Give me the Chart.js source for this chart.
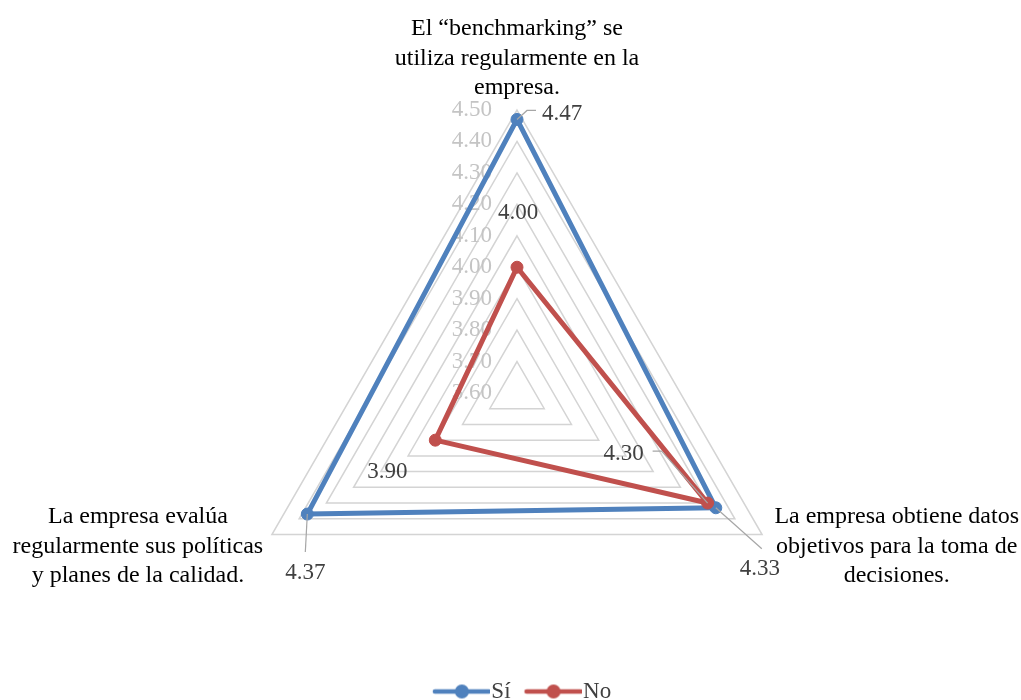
<!DOCTYPE html>
<html lang="es">
<head>
<meta charset="utf-8">
<title>Benchmarking y evaluación de la calidad</title>
<script src="https://cdn.jsdelivr.net/npm/chart.js@4.4.1/dist/chart.umd.min.js"></script>
<style>
  html, body { margin: 0; padding: 0; background: #ffffff; }
  #wrap { width: 1021px; height: 700px; }
</style>
</head>
<body>
<div id="wrap"><canvas id="c" width="1021" height="700"></canvas></div>
<script>
// Categories (one entry per axis, broken into display lines)
const categories = [
  ['El \u201cbenchmarking\u201d se', 'utiliza regularmente en la', 'empresa.'],
  ['La empresa obtiene datos', 'objetivos para la toma de', 'decisiones.'],
  ['La empresa evalúa', 'regularmente sus políticas', 'y planes de la calidad.']
];

// Series values
const seriesNames = ['Sí', 'No'];
const valuesSi = [4.47, 4.33, 4.37];
const valuesNo = [4.00, 4.30, 3.90];

// Radial axis range
const axisMin = 3.6;
const axisMax = 4.5;
const axisStep = 0.1;

// Styling
const seriesColors = ['#4f81bd', '#c0504d'];
const serif = "'Liberation Serif', 'Times New Roman', serif";

// Value label placement (offset of label centre from its point) and leader lines
const labelPlacement = [
  [ { dx: 45, dy: -5, leader: [[0, 0], [10, -9], [19, -9]] },
    { dx: 44, dy: 61, leader: [[0, 0], [46, 41]] },
    { dx: -2, dy: 59, leader: [[0, 0], [-2, 38]] } ],
  [ { dx: 1, dy: -54, leader: null },
    { dx: -84, dy: -49, leader: [[0, 0], [-46, -52], [-55, -52]] },
    { dx: -48, dy: 32, leader: null } ]
];

// Category label block centre, relative to the outer vertex of each axis
const categoryPlacement = [
  { dx: 0, dy: -51.5 },
  { dx: 134.6, dy: 12 },
  { dx: -134, dy: 12 }
];

// Legend marker: short line with a dot in the middle
function legendMarker(color) {
  const cv = document.createElement('canvas');
  cv.width = 77; cv.height = 16;
  const g = cv.getContext('2d');
  g.strokeStyle = color;
  g.lineWidth = 4.5;
  g.lineCap = 'round';
  g.beginPath();
  g.moveTo(22, 8); g.lineTo(76, 8);
  g.stroke();
  g.fillStyle = color;
  g.beginPath();
  g.arc(49, 8, 7, 0, Math.PI * 2);
  g.fill();
  return cv;
}

// Tick labels, drawn to the left of the vertical axis
const tickLabelPlugin = {
  id: 'tickLabels',
  beforeDatasetsDraw(chart) {
    const s = chart.scales.r;
    const ctx = chart.ctx;
    ctx.save();
    ctx.font = '23px ' + serif;
    ctx.fillStyle = '#c4c4c4';
    ctx.textAlign = 'right';
    ctx.textBaseline = 'middle';
    s.ticks.forEach(t => {
      const d = s.getDistanceFromCenterForValue(t.value);
      ctx.fillText(t.value.toFixed(2), s.xCenter - 25, s.yCenter - d);
    });
    ctx.restore();
  }
};

// Category labels, centred multi-line blocks beyond each vertex
const categoryLabelPlugin = {
  id: 'categoryLabels',
  afterDraw(chart) {
    const s = chart.scales.r;
    const ctx = chart.ctx;
    const lh = 29.5;
    ctx.save();
    ctx.font = '24px ' + serif;
    ctx.fillStyle = '#000000';
    ctx.textAlign = 'center';
    ctx.textBaseline = 'middle';
    categories.forEach((lines, i) => {
      const p = s.getPointPosition(i, s.drawingArea);
      const cx = p.x + categoryPlacement[i].dx;
      const cy = p.y + categoryPlacement[i].dy;
      const y0 = cy - (lines.length - 1) * lh / 2;
      lines.forEach((ln, k) => ctx.fillText(ln, cx, y0 + k * lh));
    });
    ctx.restore();
  }
};

// Value labels with leader lines
const valueLabelPlugin = {
  id: 'valueLabels',
  afterDatasetsDraw(chart) {
    const ctx = chart.ctx;
    ctx.save();
    chart.data.datasets.forEach((ds, di) => {
      const meta = chart.getDatasetMeta(di);
      meta.data.forEach((pt, j) => {
        const pl = labelPlacement[di][j];
        if (pl.leader) {
          ctx.strokeStyle = '#a6a6a6';
          ctx.lineWidth = 1.2;
          ctx.beginPath();
          pl.leader.forEach((q, k) => {
            if (k === 0) ctx.moveTo(pt.x + q[0], pt.y + q[1]);
            else ctx.lineTo(pt.x + q[0], pt.y + q[1]);
          });
          ctx.stroke();
        }
        ctx.font = '23px ' + serif;
        ctx.fillStyle = '#404040';
        ctx.textAlign = 'center';
        ctx.textBaseline = 'middle';
        ctx.fillText(ds.data[j].toFixed(2), pt.x + pl.dx, pt.y + pl.dy);
      });
    });
    ctx.restore();
  }
};

const markers = seriesColors.map(legendMarker);

new Chart(document.getElementById('c'), {
  type: 'radar',
  data: {
    labels: categories.map(l => l.join(' ')),
    datasets: [
      {
        label: seriesNames[0],
        data: valuesSi,
        borderColor: seriesColors[0],
        backgroundColor: seriesColors[0],
        pointBackgroundColor: seriesColors[0],
        pointBorderColor: seriesColors[0],
        borderWidth: 5,
        borderJoinStyle: 'round',
        pointRadius: 6,
        pointBorderWidth: 1,
        fill: false,
        order: 1
      },
      {
        label: seriesNames[1],
        data: valuesNo,
        borderColor: seriesColors[1],
        backgroundColor: seriesColors[1],
        pointBackgroundColor: seriesColors[1],
        pointBorderColor: seriesColors[1],
        borderWidth: 5,
        borderJoinStyle: 'round',
        pointRadius: 6,
        pointBorderWidth: 1,
        fill: false,
        order: 0
      }
    ]
  },
  options: {
    responsive: false,
    devicePixelRatio: 1,
    animation: false,
    layout: { padding: { left: 234, right: 221, top: 110, bottom: -13 } },
    scales: {
      r: {
        min: axisMin,
        max: axisMax,
        beginAtZero: false,
        ticks: { stepSize: axisStep, display: false },
        grid: { color: '#d4d4d4', lineWidth: 1.5 },
        angleLines: { display: false },
        pointLabels: { display: false }
      }
    },
    plugins: {
      tooltip: { enabled: false },
      legend: {
        position: 'bottom',
        labels: {
          usePointStyle: true,
          pointStyleWidth: 57,
          padding: 4,
          color: '#404040',
          font: { family: serif, size: 23 },
          generateLabels(chart) {
            const items = Chart.defaults.plugins.legend.labels.generateLabels(chart);
            items.sort((a, b) => a.datasetIndex - b.datasetIndex);
            items.forEach(it => { it.pointStyle = markers[it.datasetIndex]; });
            return items;
          }
        }
      }
    }
  },
  plugins: [tickLabelPlugin, valueLabelPlugin, categoryLabelPlugin]
});
</script>
</body>
</html>
